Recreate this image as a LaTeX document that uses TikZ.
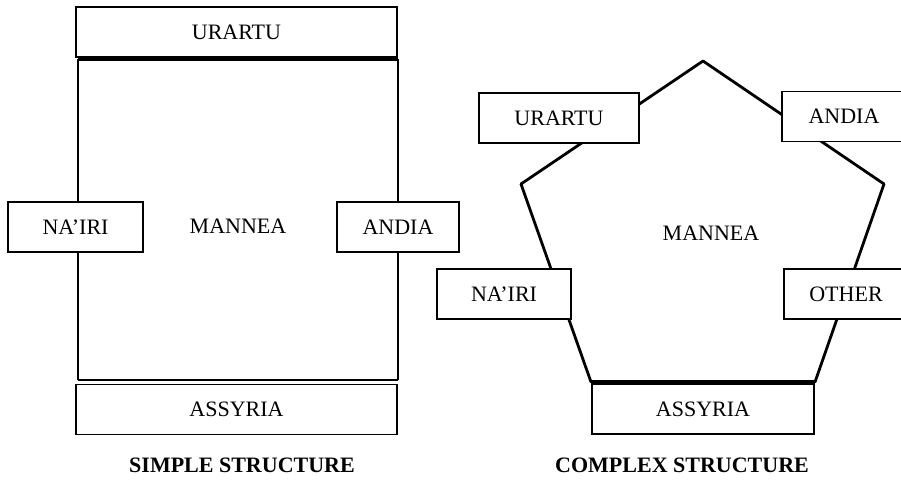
\documentclass[tikz,border=0pt]{standalone}
\usepackage{fontspec}
\setmainfont{Liberation Serif}
\usetikzlibrary{positioning}

\begin{document}
\begin{tikzpicture}[x=1pt, y=-1pt,
        region/.style={rectangle, draw, fill=white, line width=1.5pt, minimum height=50pt, inner sep=0pt, font=\fontsize{22}{26}\selectfont},
        centre/.style={font=\fontsize{22}{26}\selectfont},
        heading/.style={font=\fontsize{22}{26}\selectfont\bfseries},
        wall/.style={line width=2.8pt, line join=miter, line cap=round},
        heavywall/.style={line width=4.5pt}
    ]
        \clip (0,0) rectangle (901,480);
        \fill[white] (0,0) rectangle (901,480);

        % simple structure
        \coordinate (s1) at (78,59);
        \coordinate (s2) at (398,59);
        \coordinate (s3) at (398,380);
        \coordinate (s4) at (78,380);
        \draw[heavywall] (s1) -- (s2);
        \draw[line width=2.3pt] (s2) -- (s3);
        \draw[line width=2.5pt] (s3) -- (s4);
        \draw[line width=1.8pt] (s4) -- (s1);

        \node[region, minimum width=321pt] (surartu) at (236.5,32) {URARTU};
        \node[region, minimum width=321pt] (sassyria) at (236.5,409.5) {ASSYRIA};
        \node[region, minimum width=135pt] (snairi) at (75.5,227) {NA’IRI};
        \node[region, minimum width=122pt] (sandia) at (398,227) {ANDIA};
        \node[centre] (smannea) at (238,226) {MANNEA};
        \node[heading] (stitle) at (242,465) {SIMPLE STRUCTURE};

        % complex structure
        \coordinate (p1) at (703,61);
        \coordinate (p2) at (884,184);
        \coordinate (p3) at (815,382);
        \coordinate (p4) at (591,382);
        \coordinate (p5) at (521,184);
        \draw[wall] (p1) -- (p2);
        \draw[wall] (p2) -- (p3);
        \draw[heavywall] (p3) -- (p4);
        \draw[wall] (p4) -- (p5);
        \draw[wall] (p5) -- (p1);

        \node[region, minimum width=160pt] (curartu) at (559,118) {URARTU};
        \node[region, minimum width=124pt] (candia) at (844,116.5) {ANDIA};
        \node[region, minimum width=134pt] (cnairi) at (504,294) {NA’IRI};
        \node[region, minimum width=124pt] (cother) at (846,294) {OTHER};
        \node[region, minimum width=222pt] (cassyria) at (703,409) {ASSYRIA};
        \node[centre] (cmannea) at (711,233) {MANNEA};
        \node[heading] (ctitle) at (682,465) {COMPLEX STRUCTURE};
    \end{tikzpicture}
\end{document}
